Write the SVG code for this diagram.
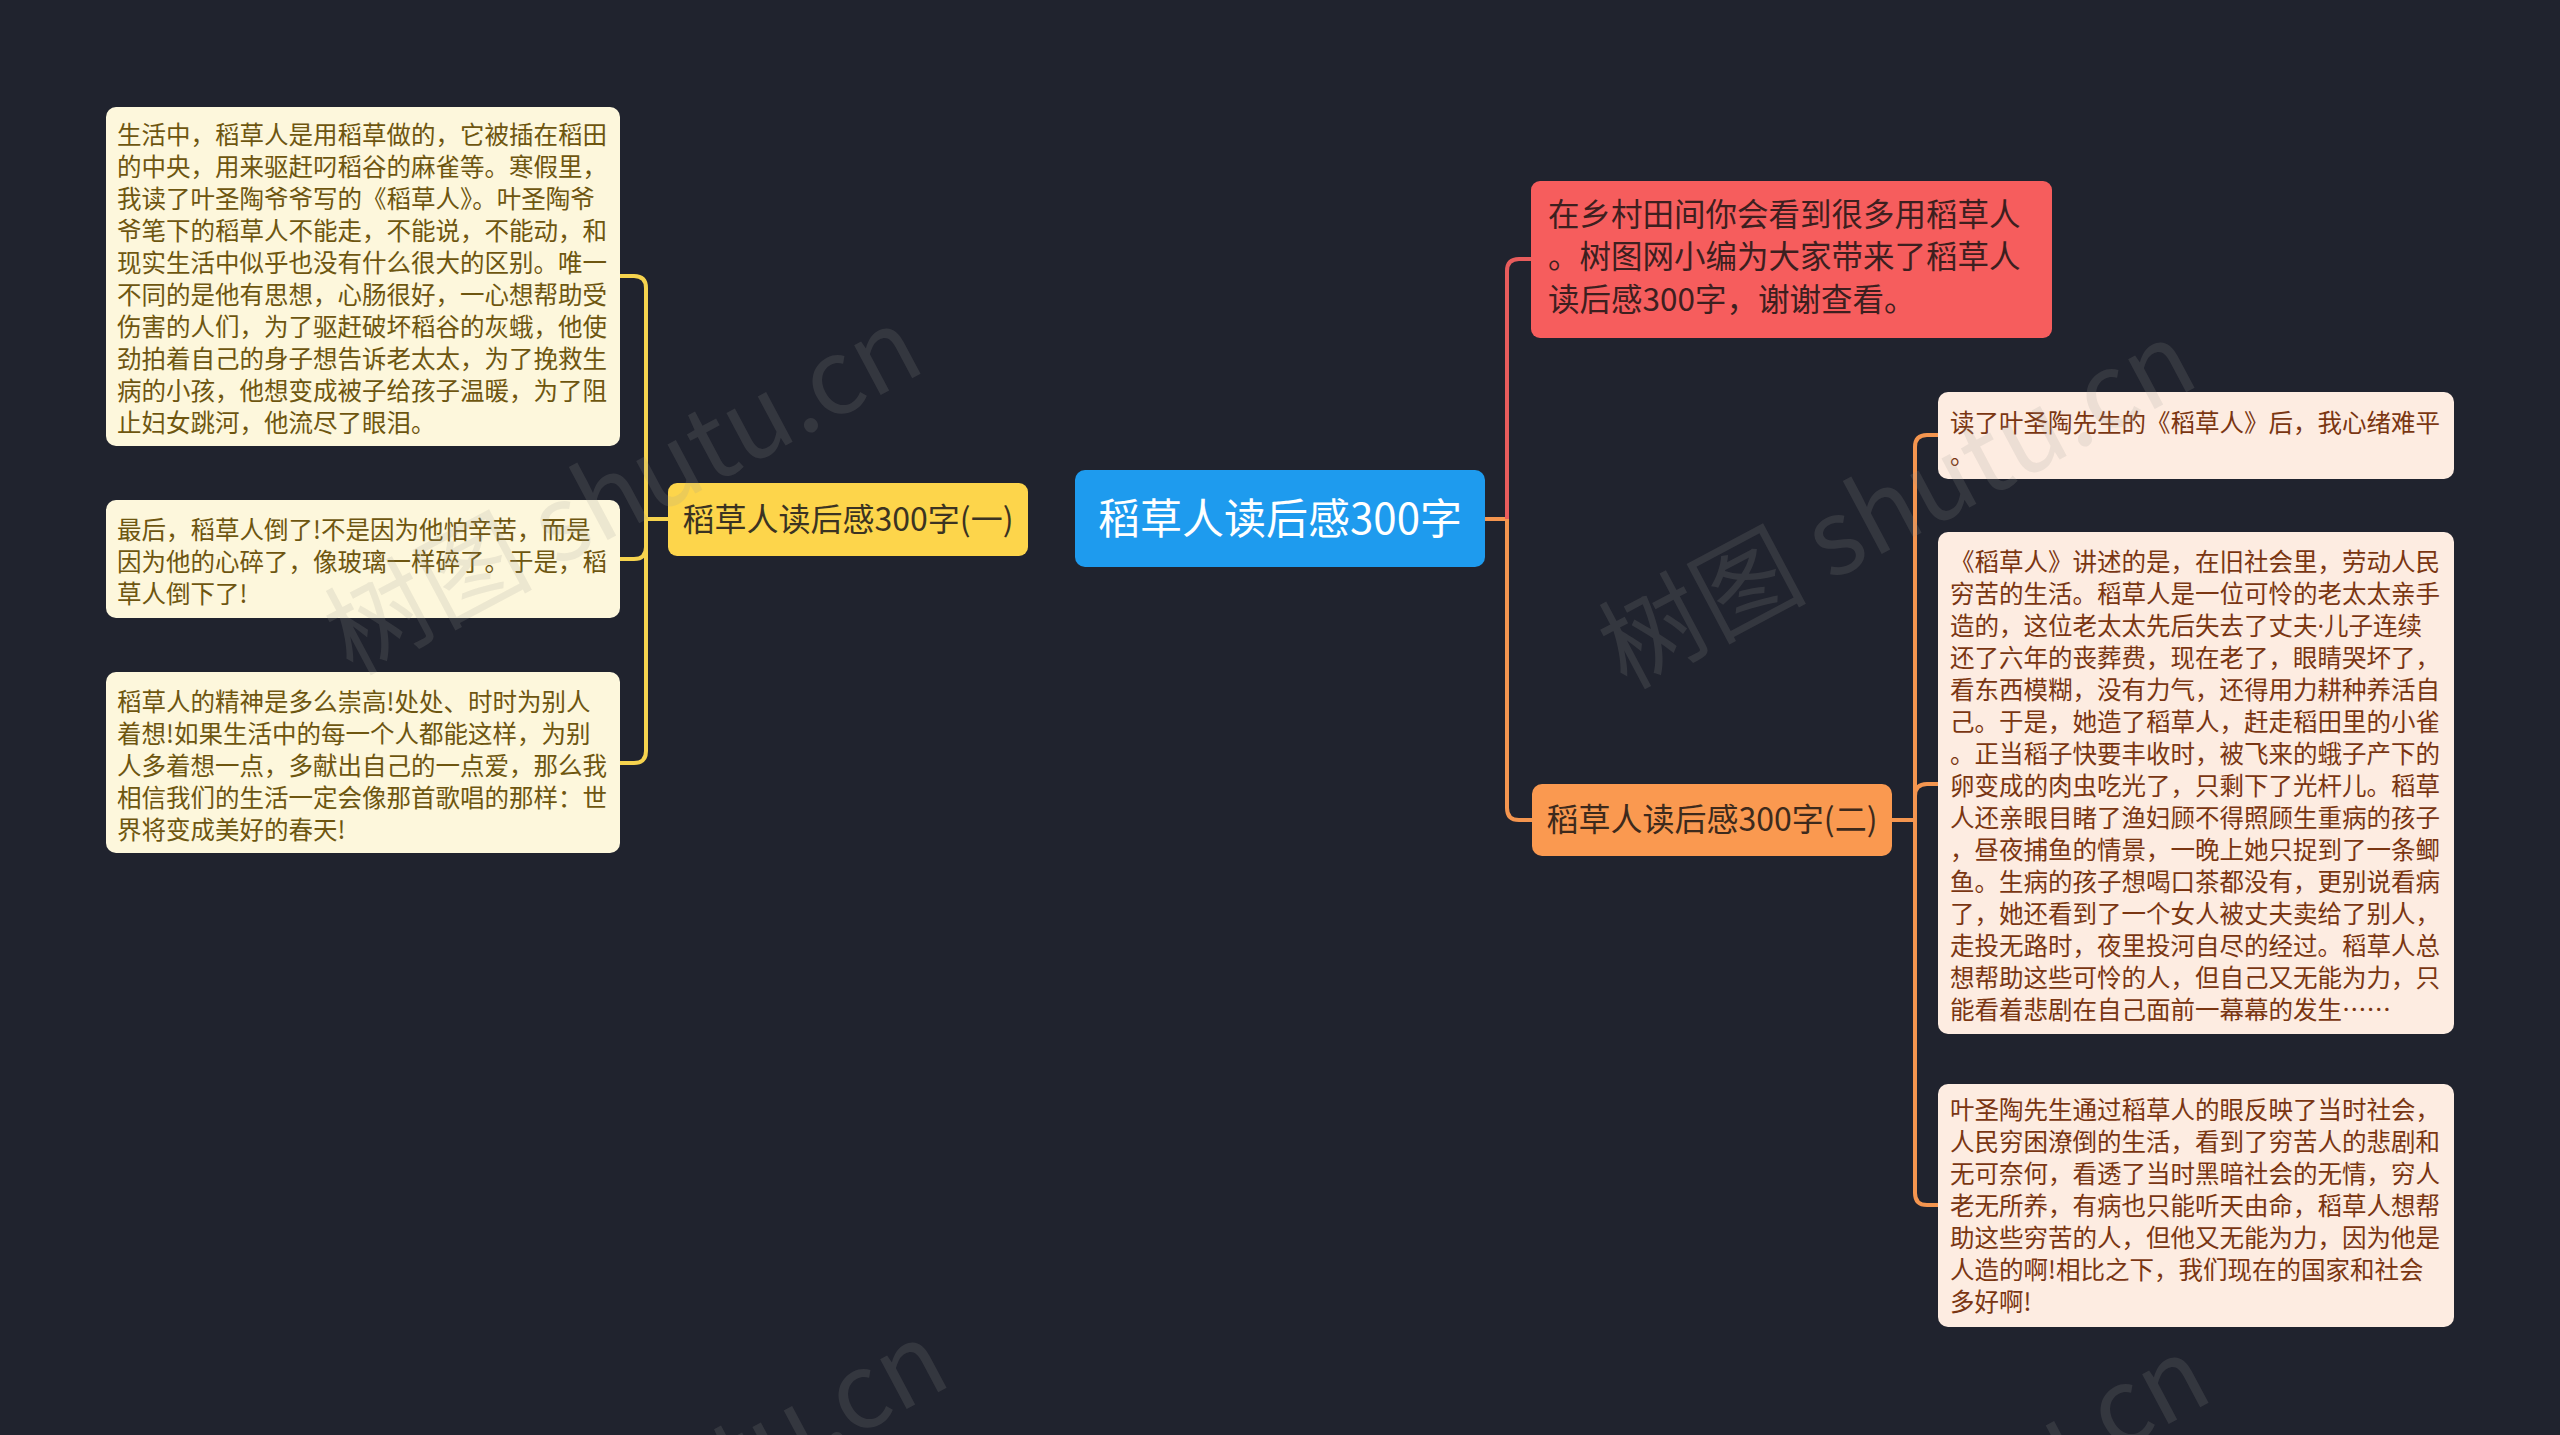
<svg xmlns="http://www.w3.org/2000/svg" width="2560" height="1435" viewBox="0 0 2560 1435">
<style>
.bg{fill:#20232e}
.t{font-family:"Noto Sans CJK SC","Noto Sans",sans-serif}
.leaf-l{fill:#fdf7dc}
.leaf-l-t{fill:#6e5610;font-size:24.5px}
.leaf-r{fill:#fdece1}
.leaf-r-t{fill:#7a3612;font-size:24.5px}
.c-y{fill:none;stroke:#f6d34e;stroke-width:4}
.c-r{fill:none;stroke:#e85c5c;stroke-width:4}
.c-o{fill:none;stroke:#f4954f;stroke-width:4}
.wm{font-family:"Noto Sans CJK SC","Noto Sans",sans-serif;font-size:104px;fill:#9a9a92;fill-opacity:0.17}
</style>
<rect class="bg" x="0" y="0" width="2560" height="1435"/>

<g id="connectors">
<path class="c-y" d="M668,519 H646"/>
<path class="c-y" d="M620,276 H634 Q646,276 646,288 V751 Q646,763 634,763 H620"/>
<path class="c-y" d="M620,559 H634 Q646,559 646,547"/>
<path class="c-o" d="M1485,519 H1507"/>
<path class="c-r" d="M1507,519 V271 Q1507,259 1519,259 H1531"/>
<path class="c-o" d="M1507,519 V808 Q1507,820 1519,820 H1532"/>
<path class="c-o" d="M1892,820 H1915"/>
<path class="c-o" d="M1938,435 H1927 Q1915,435 1915,447 V1193 Q1915,1205 1927,1205 H1938"/>
<path class="c-o" d="M1938,784 H1927 Q1915,784 1915,796"/>
</g>

<g id="root">
<rect x="1075" y="470" width="410" height="97" rx="10" fill="#1e9bee"/>
<text class="t" x="1280" y="534" text-anchor="middle" font-size="42" fill="#ffffff">稻草人读后感300字</text>
</g>

<g id="branch-1">
<rect x="668" y="483" width="360" height="73" rx="9" fill="#fdd54b"/>
<text class="t" x="848" y="531" text-anchor="middle" font-size="32" fill="#3b3322">稻草人读后感300字(一)</text>
</g>

<g id="leaf-1-1">
<rect class="leaf-l" x="106" y="107" width="514" height="339" rx="10"/>
<text class="t leaf-l-t" x="117" y="144">
<tspan x="117" y="144">生活中，稻草人是用稻草做的，它被插在稻田</tspan>
<tspan x="117" y="176">的中央，用来驱赶叼稻谷的麻雀等。寒假里，</tspan>
<tspan x="117" y="208">我读了叶圣陶爷爷写的《稻草人》。叶圣陶爷</tspan>
<tspan x="117" y="240">爷笔下的稻草人不能走，不能说，不能动，和</tspan>
<tspan x="117" y="272">现实生活中似乎也没有什么很大的区别。唯一</tspan>
<tspan x="117" y="304">不同的是他有思想，心肠很好，一心想帮助受</tspan>
<tspan x="117" y="336">伤害的人们，为了驱赶破坏稻谷的灰蛾，他使</tspan>
<tspan x="117" y="368">劲拍着自己的身子想告诉老太太，为了挽救生</tspan>
<tspan x="117" y="400">病的小孩，他想变成被子给孩子温暖，为了阻</tspan>
<tspan x="117" y="432">止妇女跳河，他流尽了眼泪。</tspan>
</text>
</g>

<g id="leaf-1-2">
<rect class="leaf-l" x="106" y="500" width="514" height="118" rx="10"/>
<text class="t leaf-l-t" x="117" y="539">
<tspan x="117" y="539">最后，稻草人倒了!不是因为他怕辛苦，而是</tspan>
<tspan x="117" y="571">因为他的心碎了，像玻璃一样碎了。于是，稻</tspan>
<tspan x="117" y="603">草人倒下了!</tspan>
</text>
</g>

<g id="leaf-1-3">
<rect class="leaf-l" x="106" y="672" width="514" height="181" rx="10"/>
<text class="t leaf-l-t" x="117" y="711">
<tspan x="117" y="711">稻草人的精神是多么崇高!处处、时时为别人</tspan>
<tspan x="117" y="743">着想!如果生活中的每一个人都能这样，为别</tspan>
<tspan x="117" y="775">人多着想一点，多献出自己的一点爱，那么我</tspan>
<tspan x="117" y="807">相信我们的生活一定会像那首歌唱的那样：世</tspan>
<tspan x="117" y="839">界将变成美好的春天!</tspan>
</text>
</g>

<g id="intro">
<rect x="1531" y="181" width="521" height="157" rx="9" fill="#f65d5d"/>
<text class="t" font-size="31.5" fill="#3d1f1f">
<tspan x="1548" y="226">在乡村田间你会看到很多用稻草人</tspan>
<tspan x="1548" y="268">。树图网小编为大家带来了稻草人</tspan>
<tspan x="1548" y="311">读后感300字，谢谢查看。</tspan>
</text>
</g>

<g id="branch-2">
<rect x="1532" y="784" width="360" height="72" rx="10" fill="#fa9950"/>
<text class="t" x="1712" y="831" text-anchor="middle" font-size="32" fill="#3d2a1c">稻草人读后感300字(二)</text>
</g>

<g id="leaf-2-1">
<rect class="leaf-r" x="1938" y="392" width="516" height="87" rx="10"/>
<text class="t leaf-r-t">
<tspan x="1950" y="432">读了叶圣陶先生的《稻草人》后，我心绪难平</tspan>
<tspan x="1950" y="464">。</tspan>
</text>
</g>

<g id="leaf-2-2">
<rect class="leaf-r" x="1938" y="532" width="516" height="502" rx="10"/>
<text class="t leaf-r-t">
<tspan x="1950" y="571">《稻草人》讲述的是，在旧社会里，劳动人民</tspan>
<tspan x="1950" y="603">穷苦的生活。稻草人是一位可怜的老太太亲手</tspan>
<tspan x="1950" y="635">造的，这位老太太先后失去了丈夫<tspan font-family="Noto Sans,sans-serif">·</tspan>儿子连续</tspan>
<tspan x="1950" y="667">还了六年的丧葬费，现在老了，眼睛哭坏了，</tspan>
<tspan x="1950" y="699">看东西模糊，没有力气，还得用力耕种养活自</tspan>
<tspan x="1950" y="731">己。于是，她造了稻草人，赶走稻田里的小雀</tspan>
<tspan x="1950" y="763">。正当稻子快要丰收时，被飞来的蛾子产下的</tspan>
<tspan x="1950" y="795">卵变成的肉虫吃光了，只剩下了光杆儿。稻草</tspan>
<tspan x="1950" y="827">人还亲眼目睹了渔妇顾不得照顾生重病的孩子</tspan>
<tspan x="1950" y="859">，昼夜捕鱼的情景，一晚上她只捉到了一条鲫</tspan>
<tspan x="1950" y="891">鱼。生病的孩子想喝口茶都没有，更别说看病</tspan>
<tspan x="1950" y="923">了，她还看到了一个女人被丈夫卖给了别人，</tspan>
<tspan x="1950" y="955">走投无路时，夜里投河自尽的经过。稻草人总</tspan>
<tspan x="1950" y="987">想帮助这些可怜的人，但自己又无能为力，只</tspan>
<tspan x="1950" y="1019">能看着悲剧在自己面前一幕幕的发生……</tspan>
</text>
</g>

<g id="leaf-2-3">
<rect class="leaf-r" x="1938" y="1084" width="516" height="243" rx="10"/>
<text class="t leaf-r-t">
<tspan x="1950" y="1119">叶圣陶先生通过稻草人的眼反映了当时社会，</tspan>
<tspan x="1950" y="1151">人民穷困潦倒的生活，看到了穷苦人的悲剧和</tspan>
<tspan x="1950" y="1183">无可奈何，看透了当时黑暗社会的无情，穷人</tspan>
<tspan x="1950" y="1215">老无所养，有病也只能听天由命，稻草人想帮</tspan>
<tspan x="1950" y="1247">助这些穷苦的人，但他又无能为力，因为他是</tspan>
<tspan x="1950" y="1279">人造的啊!相比之下，我们现在的国家和社会</tspan>
<tspan x="1950" y="1311">多好啊!</tspan>
</text>
</g>

<g id="watermarks">
<text class="wm" transform="translate(352,676) rotate(-28)">树图 shutu.cn</text>
<text class="wm" transform="translate(1626,690) rotate(-28)">树图 shutu.cn</text>
<text class="wm" transform="translate(378,1690) rotate(-28)">树图 shutu.cn</text>
<text class="wm" transform="translate(1640,1705) rotate(-28)">树图 shutu.cn</text>
</g>
</svg>
